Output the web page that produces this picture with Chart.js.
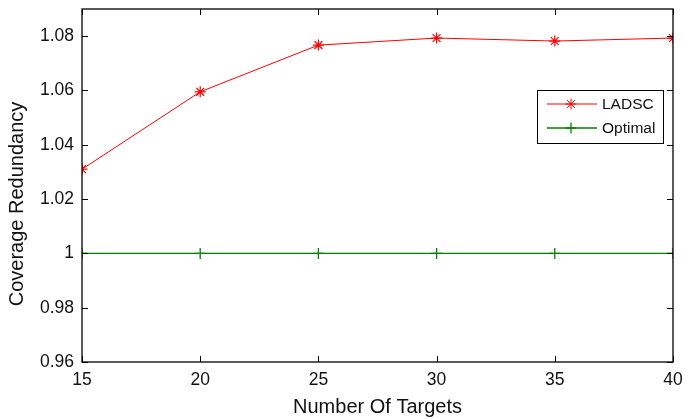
<!DOCTYPE html>
<html>
<head>
<meta charset="utf-8">
<script src="https://cdn.jsdelivr.net/npm/chart.js@4.4.0/dist/chart.umd.min.js"></script>
<style>
  html, body { margin: 0; padding: 0; background: #fff; }
  #wrap { width: 685px; height: 419px; }
</style>
</head>
<body>
<div id="wrap"><canvas id="cov"></canvas></div>
<script>
// values
var targets = [15, 20, 25, 30, 35, 40];
var ladsc = [1.031, 1.0595, 1.0767, 1.0793, 1.0782, 1.0793];
var optimal = [1, 1, 1, 1, 1, 1];
var xTicks = [15, 20, 25, 30, 35, 40];
var yTicks = [0.96, 0.98, 1, 1.02, 1.04, 1.06, 1.08];

var FONT = '"Liberation Sans", Arial, Helvetica, sans-serif';

function toPoints(ys) {
  return targets.map(function (t, i) { return { x: t, y: ys[i] }; });
}

// matlab style box + inward ticks, y label and boxed legend
var matlabBox = {
  id: 'matlabBox',
  afterDraw: function (chart) {
    var ctx = chart.ctx;
    var a = chart.chartArea;
    var xs = chart.scales.x, ys = chart.scales.y;
    var tl = 6;
    ctx.save();
    ctx.strokeStyle = '#000';
    ctx.lineWidth = 1.3;
    ctx.strokeRect(a.left, a.top, a.right - a.left, a.bottom - a.top);
    ctx.lineWidth = 1;
    ctx.beginPath();
    xTicks.forEach(function (v) {
      var px = Math.round(xs.getPixelForValue(v)) + 0.5;
      ctx.moveTo(px, a.bottom); ctx.lineTo(px, a.bottom - tl);
      ctx.moveTo(px, a.top); ctx.lineTo(px, a.top + tl);
    });
    yTicks.forEach(function (v) {
      var py = Math.round(ys.getPixelForValue(v)) + 0.5;
      ctx.moveTo(a.left, py); ctx.lineTo(a.left + tl, py);
      ctx.moveTo(a.right, py); ctx.lineTo(a.right - tl, py);
    });
    ctx.stroke();

    // y axis title
    ctx.fillStyle = '#111';
    ctx.font = '20px ' + FONT;
    ctx.textAlign = 'center';
    ctx.textBaseline = 'middle';
    ctx.translate(17, 204);
    ctx.rotate(-Math.PI / 2);
    ctx.fillText('Coverage Redundancy', 0, 0);
    ctx.restore();

    // legend
    var bx = 537, by = 90, bw = 126, bh = 53;
    ctx.save();
    ctx.fillStyle = '#fff';
    ctx.fillRect(bx, by, bw, bh);
    ctx.strokeStyle = '#000';
    ctx.lineWidth = 1;
    ctx.strokeRect(bx + 0.5, by + 0.5, bw, bh);
    chart.data.datasets.forEach(function (ds, i) {
      var ry = by + 14 + i * 24;
      ctx.strokeStyle = ds.borderColor;
      ctx.lineWidth = ds.borderWidth;
      ctx.beginPath();
      ctx.moveTo(bx + 10, ry); ctx.lineTo(bx + 60, ry);
      ctx.stroke();
      ctx.fillStyle = ds.borderColor;
      Chart.helpers.drawPoint(ctx, {
        pointStyle: ds.pointStyle, radius: ds.pointRadius,
        rotation: 0, borderWidth: ds.pointBorderWidth
      }, bx + 34, ry);
      ctx.fillStyle = '#111';
      ctx.font = '15.5px ' + FONT;
      ctx.textAlign = 'left';
      ctx.textBaseline = 'middle';
      ctx.fillText(ds.label, bx + 65, ry + 1);
    });
    ctx.restore();
  }
};

var ctx1 = document.getElementById('cov');
var covChart = new Chart(ctx1, {
  type: 'line',
  data: {
    datasets: [
      {
        label: 'LADSC',
        data: toPoints(ladsc),
        borderColor: '#ff0000',
        backgroundColor: '#ff0000',
        borderWidth: 1,
        pointStyle: 'star',
        pointRadius: 5.5,
        pointBorderWidth: 1.2,
        tension: 0
      },
      {
        label: 'Optimal',
        data: toPoints(optimal),
        borderColor: '#008000',
        backgroundColor: '#008000',
        borderWidth: 1.3,
        pointStyle: 'cross',
        pointRadius: 5.5,
        pointBorderWidth: 1.3,
        tension: 0
      }
    ]
  },
  options: {
    responsive: true,
    maintainAspectRatio: false,
    animation: false,
    layout: { padding: { top: 9, right: 12, left: 0, bottom: 0 } },
    plugins: {
      legend: { display: false },
      tooltip: { enabled: false }
    },
    scales: {
      x: {
        type: 'linear',
        min: 15,
        max: 40,
        afterBuildTicks: function (s) { s.ticks = xTicks.map(function (v) { return { value: v }; }); },
        afterFit: function (s) { s.height = 57; s.paddingLeft = 0; s.paddingRight = 0; },
        grid: { drawOnChartArea: false, drawTicks: false },
        border: { display: false },
        ticks: {
          color: '#111',
          padding: 8,
          maxRotation: 0,
          font: { family: FONT, size: 17.5 }
        },
        title: {
          display: true,
          text: 'Number Of Targets',
          color: '#111',
          padding: 0,
          font: { family: FONT, size: 20 }
        }
      },
      y: {
        min: 0.96,
        max: 1.09,
        afterBuildTicks: function (s) { s.ticks = yTicks.map(function (v) { return { value: v }; }); },
        afterFit: function (s) { s.width = 82; s.paddingTop = 0; s.paddingBottom = 0; },
        grid: { drawOnChartArea: false, drawTicks: false },
        border: { display: false },
        ticks: {
          color: '#111',
          padding: 8,
          font: { family: FONT, size: 17.5 },
          callback: function (v) { return String(+v.toFixed(2)); }
        }
      }
    }
  },
  plugins: [matlabBox]
});
</script>
</body>
</html>
